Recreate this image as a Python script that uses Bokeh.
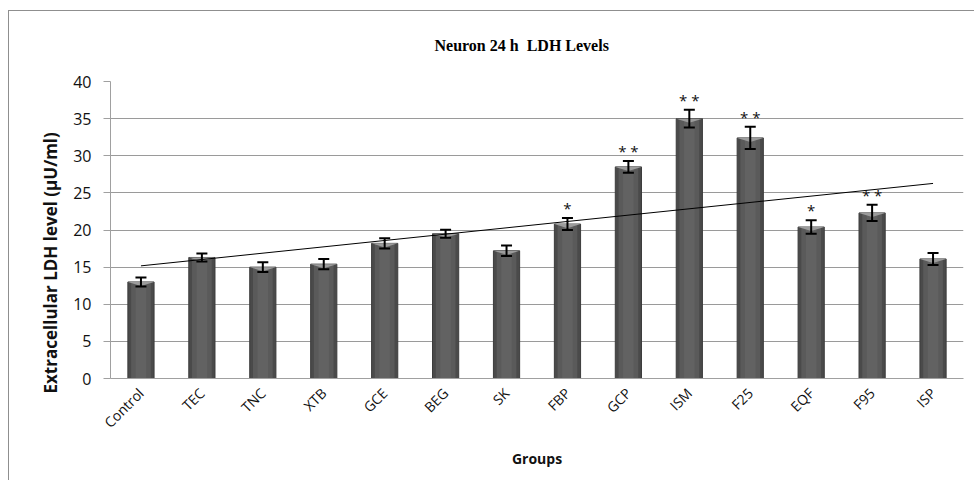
import numpy as np
from bokeh.plotting import figure
from bokeh.models import ColumnDataSource, Whisker, TeeHead, Range1d, FactorRange, FixedTicker, Title
from bokeh.core.properties import value
from bokeh.embed import file_html
from bokeh.resources import INLINE

groups = ["Control", "TEC", "TNC", "XTB", "GCE", "BEG", "SK", "FBP", "GCP", "ISM", "F25", "EQF", "F95", "ISP"]
ldh = [13.0, 16.3, 15.0, 15.4, 18.2, 19.5, 17.2, 20.8, 28.5, 35.0, 32.4, 20.4, 22.3, 16.1]
sem = [0.6, 0.55, 0.65, 0.7, 0.7, 0.55, 0.7, 0.8, 0.8, 1.2, 1.5, 0.9, 1.1, 0.8]
stars = ["", "", "", "", "", "", "", "*", "* *", "* *", "* *", "*", "* *", ""]
y_ticks = [0, 5, 10, 15, 20, 25, 30, 35, 40]
title_text = "Neuron 24 h \u00a0LDH Levels"
y_label = "Extracellular LDH level (µU/ml)"
x_label = "Groups"

BAR_W = 0.43
upper = [v + e for v, e in zip(ldh, sem)]
lower = [v - e for v, e in zip(ldh, sem)]
src = ColumnDataSource(dict(g=groups, v=ldh, up=upper, lo=lower, s=stars))

p = figure(x_range=FactorRange(*groups, range_padding=0), y_range=Range1d(0, 40),
           width=966, height=470, output_backend="svg", toolbar_location=None,
           min_border_left=101, min_border_right=12, min_border_top=70, min_border_bottom=103)
p.styles = {"margin-left": "8px", "margin-top": "10px",
            "border-left": "1px solid #8f8f8f", "border-top": "1px solid #8f8f8f"}
p.outline_line_color = None
p.background_fill_color = "white"

p.xgrid.grid_line_color = None
p.ygrid.grid_line_color = "#9a9a9a"
p.ygrid.grid_line_width = 1
p.yaxis.ticker = FixedTicker(ticks=y_ticks)

for ax in (p.xaxis[0], p.yaxis[0]):
    ax.axis_line_color = "#a0a0a0"
    ax.major_label_text_font = "Open Sans"
    ax.major_label_text_color = "#111111"
    ax.axis_label_text_font = "Open Sans"
    ax.axis_label_text_font_style = "bold"
    ax.axis_label_text_color = "#111111"
    ax.minor_tick_line_color = None

p.yaxis.major_label_text_font_size = "16px"
p.yaxis.major_tick_line_color = "#a0a0a0"
p.yaxis.major_tick_out = 7
p.yaxis.major_tick_in = 0
p.yaxis.major_label_standoff = 12

p.xaxis.major_label_text_font_size = "14px"
p.xaxis.major_tick_line_color = None
p.xaxis.major_label_orientation = np.pi / 4
p.xaxis.major_label_standoff = 6
p.xaxis.axis_label = x_label
p.xaxis.axis_label_text_font_size = "14px"
p.xaxis.axis_label_standoff = 8

# chart title
p.add_layout(Title(text=title_text, align="left", offset=324, vertical_align="top", standoff=51,
                   text_font="Liberation Serif", text_font_size="16px", text_font_style="bold",
                   text_color="black"), "above")
# y-axis title (shifted along the axis like the reference)
p.add_layout(Title(text=y_label, align="left", offset=-15, vertical_align="middle", standoff=16,
                   text_font="Open Sans", text_font_size="17px", text_font_style="bold",
                   text_color="#111111"), "left")

# bars with a simple cylinder-like shading
p.vbar(x="g", top="v", width=BAR_W, source=src, fill_color="#4a4a4a", line_color="#3c3c3c")
p.vbar(x="g", top="v", width=BAR_W * 0.75, source=src, fill_color="#5a5a5a", line_color=None)
p.vbar(x="g", top="v", width=BAR_W * 0.4, source=src, fill_color="#626262", line_color=None)

# bevel on top of each bar
bev_xs = [[(g, -BAR_W / 2), (g, BAR_W / 2), (g, 0.0)] for g in groups]
bev_ys = [[v, v, v - 0.55] for v in ldh]
p.patches(xs=bev_xs, ys=bev_ys, fill_color="#9c9c9c", line_color=None)

# linear trend line over the means
idx = np.arange(1, len(ldh) + 1)
slope, icpt = np.polyfit(idx, ldh, 1)
p.line(x=[groups[0], groups[-1]], y=[slope * idx[0] + icpt, slope * idx[-1] + icpt],
       line_color="black", line_width=1)

# error bars
p.add_layout(Whisker(source=src, base="g", upper="up", lower="lo", level="overlay",
                     line_color="black", line_width=2,
                     upper_head=TeeHead(size=11, line_width=2, line_color="black"),
                     lower_head=TeeHead(size=11, line_width=2, line_color="black")))

# significance markers
p.text(x="g", y="up", text="s", source=src, text_align="center", text_baseline="alphabetic",
       y_offset=-10, text_font=value("Open Sans"), text_font_size="15px", text_color="#111111")

open("out.html", "w").write(file_html(p, INLINE))
